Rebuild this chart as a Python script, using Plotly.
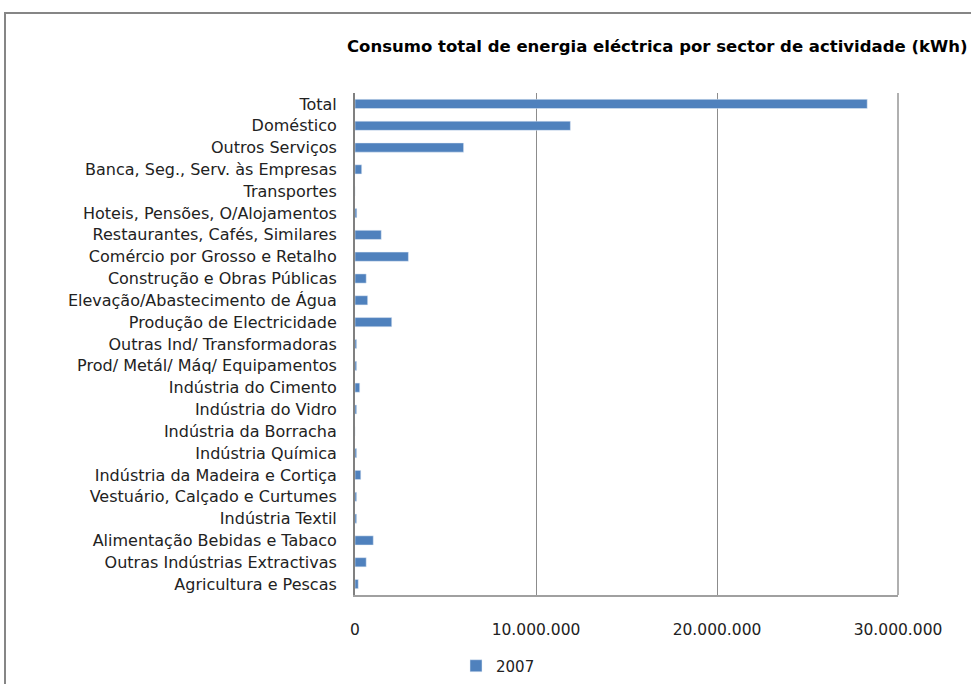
import plotly.graph_objects as go

categories = [
    "Total", "Doméstico", "Outros Serviços", "Banca, Seg., Serv. às Empresas",
    "Transportes", "Hoteis, Pensões, O/Alojamentos", "Restaurantes, Cafés, Similares",
    "Comércio por Grosso e Retalho", "Construção e Obras Públicas",
    "Elevação/Abastecimento de Água", "Produção de Electricidade",
    "Outras Ind/ Transformadoras", "Prod/ Metál/ Máq/ Equipamentos",
    "Indústria do Cimento", "Indústria do Vidro", "Indústria da Borracha",
    "Indústria Química", "Indústria da Madeira e Cortiça",
    "Vestuário, Calçado e Curtumes", "Indústria Textil",
    "Alimentação Bebidas e Tabaco", "Outras Indústrias Extractivas",
    "Agricultura e Pescas",
]
values_2007 = [
    28300000, 11900000, 6000000, 370000,
    0, 100000, 1450000,
    2950000, 620000,
    700000, 2030000,
    90000, 90000,
    260000, 90000, 0,
    90000, 320000,
    90000, 90000,
    1010000, 620000,
    180000,
]
tick_vals = [0, 10000000, 20000000, 30000000]
tick_text = ["0", "10.000.000", "20.000.000", "30.000.000"]

FONT = "DejaVu Sans"
fig = go.Figure()
fig.add_trace(go.Bar(
    y=categories, x=values_2007, orientation="h", name="2007",
    marker=dict(color="#4F81BD"),
))

fig.update_layout(
    width=971, height=684,
    paper_bgcolor="white", plot_bgcolor="white",
    margin=dict(l=355, r=73, t=93, b=89, autoexpand=False),
    bargap=0.58,
    font=dict(family=FONT, size=15, color="#222222"),
    title=dict(
        text="<b>Consumo total de energia eléctrica por sector de actividade (kWh)</b>",
        x=347/971, xanchor="left", y=1-46/684, yanchor="middle",
        font=dict(family=FONT, size=16.5, color="#000000"),
    ),
    showlegend=True,
    legend=dict(orientation="h", x=(456-355)/543, xanchor="left",
                y=-(666-595)/502, yanchor="middle",
                font=dict(family=FONT, size=15, color="#222222"),
                itemwidth=30),
    xaxis=dict(range=[0, 30000000], tickvals=tick_vals, ticktext=tick_text,
               showgrid=True, gridcolor="#8C8C8C", gridwidth=1,
               showline=True, linecolor="#A0A0A0", linewidth=2,
               zeroline=False, ticks="", ticklabelstandoff=19,
               automargin=False,
               tickfont=dict(family=FONT, size=15.5, color="#222222")),
    yaxis=dict(categoryorder="array", categoryarray=categories,
               autorange="reversed", showgrid=False,
               showline=True, linecolor="#808080", linewidth=2,
               ticks="", ticklabelstandoff=13, automargin=False,
               tickfont=dict(family=FONT, size=16, color="#222222")),
)

fig.add_shape(type="line", xref="paper", yref="paper",
              x0=1, x1=1, y0=0, y1=1, line=dict(color="#B0B0B0", width=2))
fig.add_shape(type="rect", xref="paper", yref="paper",
              x0=(5-355)/543, x1=1.3, y0=(595-13)/502, y1=-0.3,
              line=dict(color="#868686", width=2), layer="below")

fig.write_html("out.html")
